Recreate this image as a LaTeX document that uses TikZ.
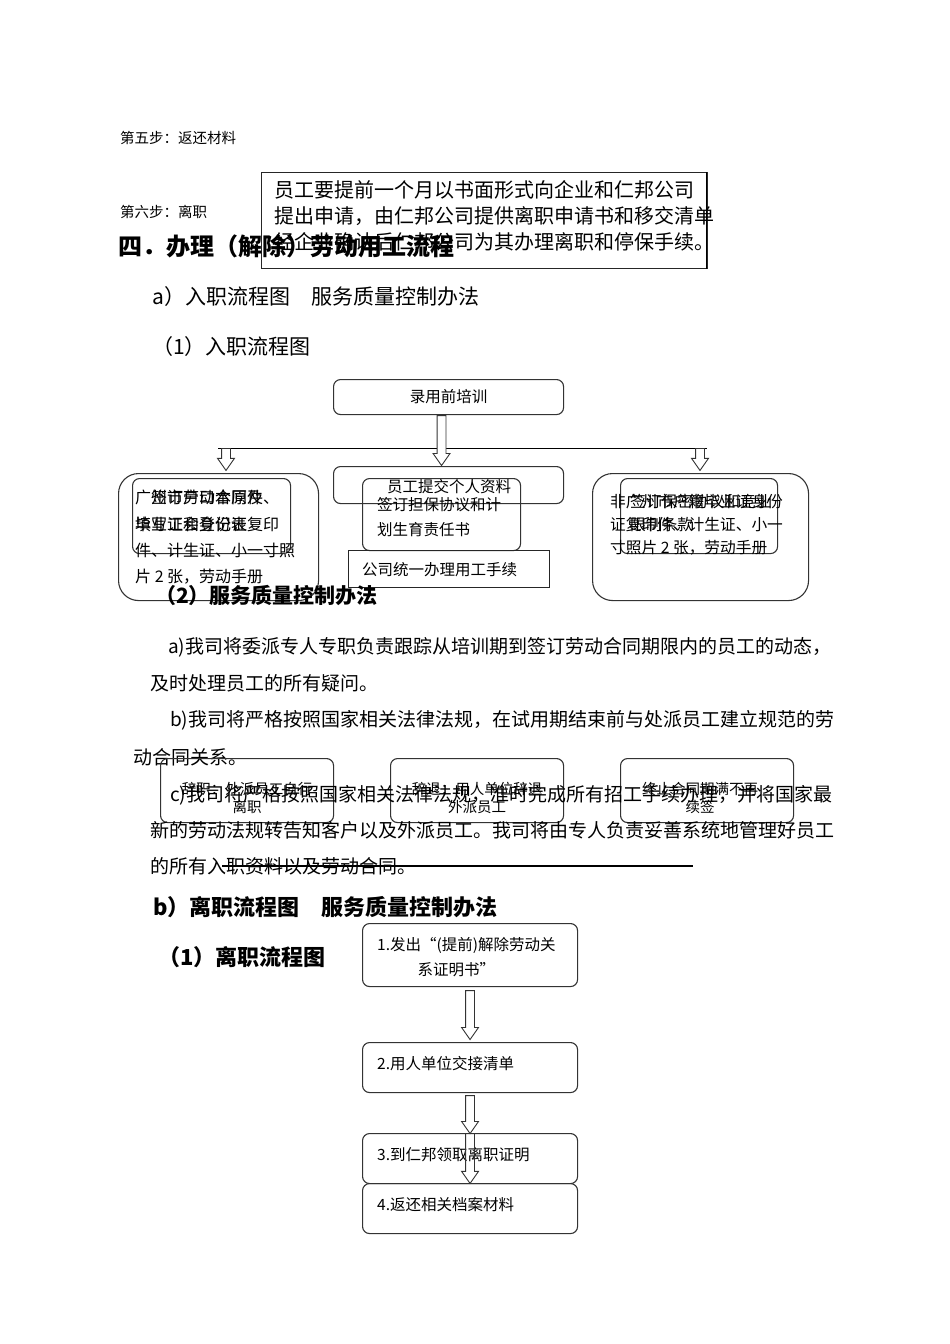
\documentclass[tikz,border=0pt]{standalone}
\usepackage{fontspec}
\setmainfont{Noto Sans CJK SC}
\usetikzlibrary{shapes.arrows,positioning}

\tikzset{
  txt/.style={anchor=west, inner sep=0pt},
  para/.style={anchor=north west, inner sep=0pt, align=left},
  note/.style={font=\fontsize{14.5}{18}\selectfont},
  small/.style={font=\fontsize{15.5}{25}\selectfont},
  body/.style={font=\fontsize{19}{24}\selectfont},
  head/.style={font=\fontsize{21}{26}\selectfont},
  bhead/.style={font=\bfseries\fontsize{22}{26}\selectfont},
  box/.style={draw=black!80, line width=1.1pt, rounded corners=7pt, inner sep=0pt, anchor=north west},
  bigbox/.style={draw=black!80, line width=1.1pt, rounded corners=20pt, inner sep=0pt, anchor=north west},
  plainbox/.style={draw=black!85, line width=1.1pt, inner sep=0pt, anchor=north west},
  hollow/.style={single arrow, draw=black!80, fill=white, line width=0.9pt,
    single arrow head extend=4pt, single arrow head indent=0pt, single arrow tip angle=70,
    inner xsep=0pt, inner ysep=4pt, rotate=-90, anchor=tail},
}

\begin{document}
\begin{tikzpicture}[x=1pt,y=-1pt]
\useasboundingbox[fill=white] (0,0) rectangle (950,1344);

\node[txt, note] (step5) at (120,138) {第五步：返还材料};
\node[txt, note] (step6) at (120,212) {第六步：离职};
\node[plainbox, line width=1.4pt, minimum width=446pt, minimum height=96pt] (notice) at (261,172) {};
\draw[line width=1.4pt] ([xshift=-2pt]notice.north east) -- ([xshift=-2pt]notice.south east);
\node[para, font=\fontsize{20}{26}\selectfont] (noticetxt) at (274,180)
  {员工要提前一个月以书面形式向企业和仁邦公司\\提出申请，由仁邦公司提供离职申请书和移交清单\\经企业确认后仁邦公司为其办理离职和停保手续。};
\node[txt, font=\bfseries\fontsize{24}{28}\selectfont] (sec4) at (118,246) {四．办理（解除）劳动用工流程};

\node[txt, head] (hina) at (152,297) {a）入职流程图　服务质量控制办法};
\node[txt, head] (hin1) at (152,347) {（1）入职流程图};

\node[box, minimum width=230pt, minimum height=35pt, small] (train) at (333,379) {录用前培训};
\coordinate (bl) at (218,448);
\coordinate (br) at (707,448);
\draw[line width=1pt] (bl) -- (br);
\node[hollow, minimum height=50pt] (dn0) at ([xshift=-7pt]train.south) {};
\node[hollow, minimum height=22pt] (dnl) at ([xshift=8pt]bl) {};
\node[hollow, minimum height=22pt] (dnr) at ([xshift=-7pt]br) {};

\node[box, minimum width=230pt, minimum height=37pt] (submit) at (333,466) {};
\node[txt, small] (submittxt) at (387,487) {员工提交个人资料};
\node[box, minimum width=158pt, minimum height=72pt] (guar) at (362,478) {};
\node[para, small] (guartxt) at (377,497) {签订担保协议和计\\划生育责任书};
\node[plainbox, minimum width=201pt, minimum height=37pt] (hire) at (348,550) {};
\node[txt, small] (hiretxt) at (362,570) {公司统一办理用工手续};

\node[bigbox, minimum width=200pt, minimum height=127pt] (local) at (118,473) {};
\node[box, minimum width=158pt, minimum height=75pt] (localin) at (132,478) {};
\node[para, font=\fontsize{16}{26.3}\selectfont] (localtxt) at (135,490)
  {广州市户口本原件、\\毕业证和身份证复印\\件、计生证、小一寸照\\片 2 张，劳动手册};
\node[para, font=\fontsize{16}{26.3}\selectfont] (localintxt) at (135,490)
  {\hspace{1em}签订劳动合同及\\填写工会登记表};

\node[bigbox, minimum width=216pt, minimum height=127pt] (other) at (592,473) {};
\node[box, minimum width=157pt, minimum height=75pt] (otherin) at (620,478) {};
\node[para, font=\fontsize{15.7}{23}\selectfont] (othertxt) at (610,494)
  {非广州市户籍毕业证身份\\证复印件、计生证、小一\\寸照片 2 张，劳动手册};
\node[para, font=\fontsize{15.7}{23}\selectfont] (otherintxt) at (630,494)
  {签订保密协议和竞业\\限制条款};

\node[txt, font=\bfseries\fontsize{21}{26}\selectfont] (hin2) at (155,595) {（2）服务质量控制办法};

\node[txt, body] (pa1) at (168,647) {a)我司将委派专人专职负责跟踪从培训期到签订劳动合同期限内的员工的动态，};
\node[txt, body] (pa2) at (150,683) {及时处理员工的所有疑问。};
\node[txt, body] (pb1) at (170,720) {b)我司将严格按照国家相关法律法规，在试用期结束前与处派员工建立规范的劳};
\node[txt, body] (pb2) at (133,757) {动合同关系。};

\node[box, minimum width=173pt, minimum height=64pt] (quit) at (160,758) {};
\node[box, minimum width=173pt, minimum height=64pt] (fire) at (390,758) {};
\node[box, minimum width=173pt, minimum height=64pt] (expire) at (620,758) {};
\node[note, align=center, inner sep=0pt] (quittxt) at ([yshift=-7pt]quit.center) {辞职：外派员工自行\\离职};
\node[note, align=center, inner sep=0pt] (firetxt) at ([yshift=-7pt]fire.center) {辞退：用人单位辞退\\外派员工};
\node[note, align=center, inner sep=0pt] (expiretxt) at ([yshift=-7pt,xshift=-7pt]expire.center) {终止合同期满不再\\续签};

\node[txt, body] (pc1) at (170,795) {c)我司将严格按照国家相关法律法规，准时完成所有招工手续办理，并将国家最};
\node[txt, body] (pc2) at (150,830) {新的劳动法规转告知客户以及外派员工。我司将由专人负责妥善系统地管理好员工};
\node[txt, body] (pc3) at (150,866) {的所有入职资料以及劳动合同。};
\coordinate (rl) at (222,866);
\coordinate (rr) at (693,866);
\draw[line width=1.3pt] (rl) -- (rr);

\node[txt, bhead] (houtb) at (153,907) {b）离职流程图　服务质量控制办法};
\node[txt, bhead] (hout1) at (158,957) {（1）离职流程图};

\node[box, minimum width=215pt, minimum height=63pt] (q1) at (362,923) {};
\node[para, small] (q1txt) at (377,937) {1.发出“(提前)解除劳动关\\\hspace{2.6em}系证明书”};
\node[box, minimum width=215pt, minimum height=50pt] (q2) at (362,1042) {};
\node[txt, small] (q2txt) at (377,1064) {2.用人单位交接清单};
\node[box, minimum width=215pt, minimum height=50pt] (q3) at (362,1133) {};
\node[txt, small] (q3txt) at (377,1155) {3.到仁邦领取离职证明};
\node[box, minimum width=215pt, minimum height=50pt] (q4) at (362,1183) {};
\node[txt, small] (q4txt) at (377,1205) {4.返还相关档案材料};

\node[hollow, minimum height=49pt] (up1) at ([yshift=-3pt]q1.south) {};
\node[hollow, minimum height=38pt] (up2) at ([yshift=-2pt]q2.south) {};
\node[hollow, minimum height=50pt, fill=none] (up3) at (q3.north) {};

\end{tikzpicture}
\end{document}
